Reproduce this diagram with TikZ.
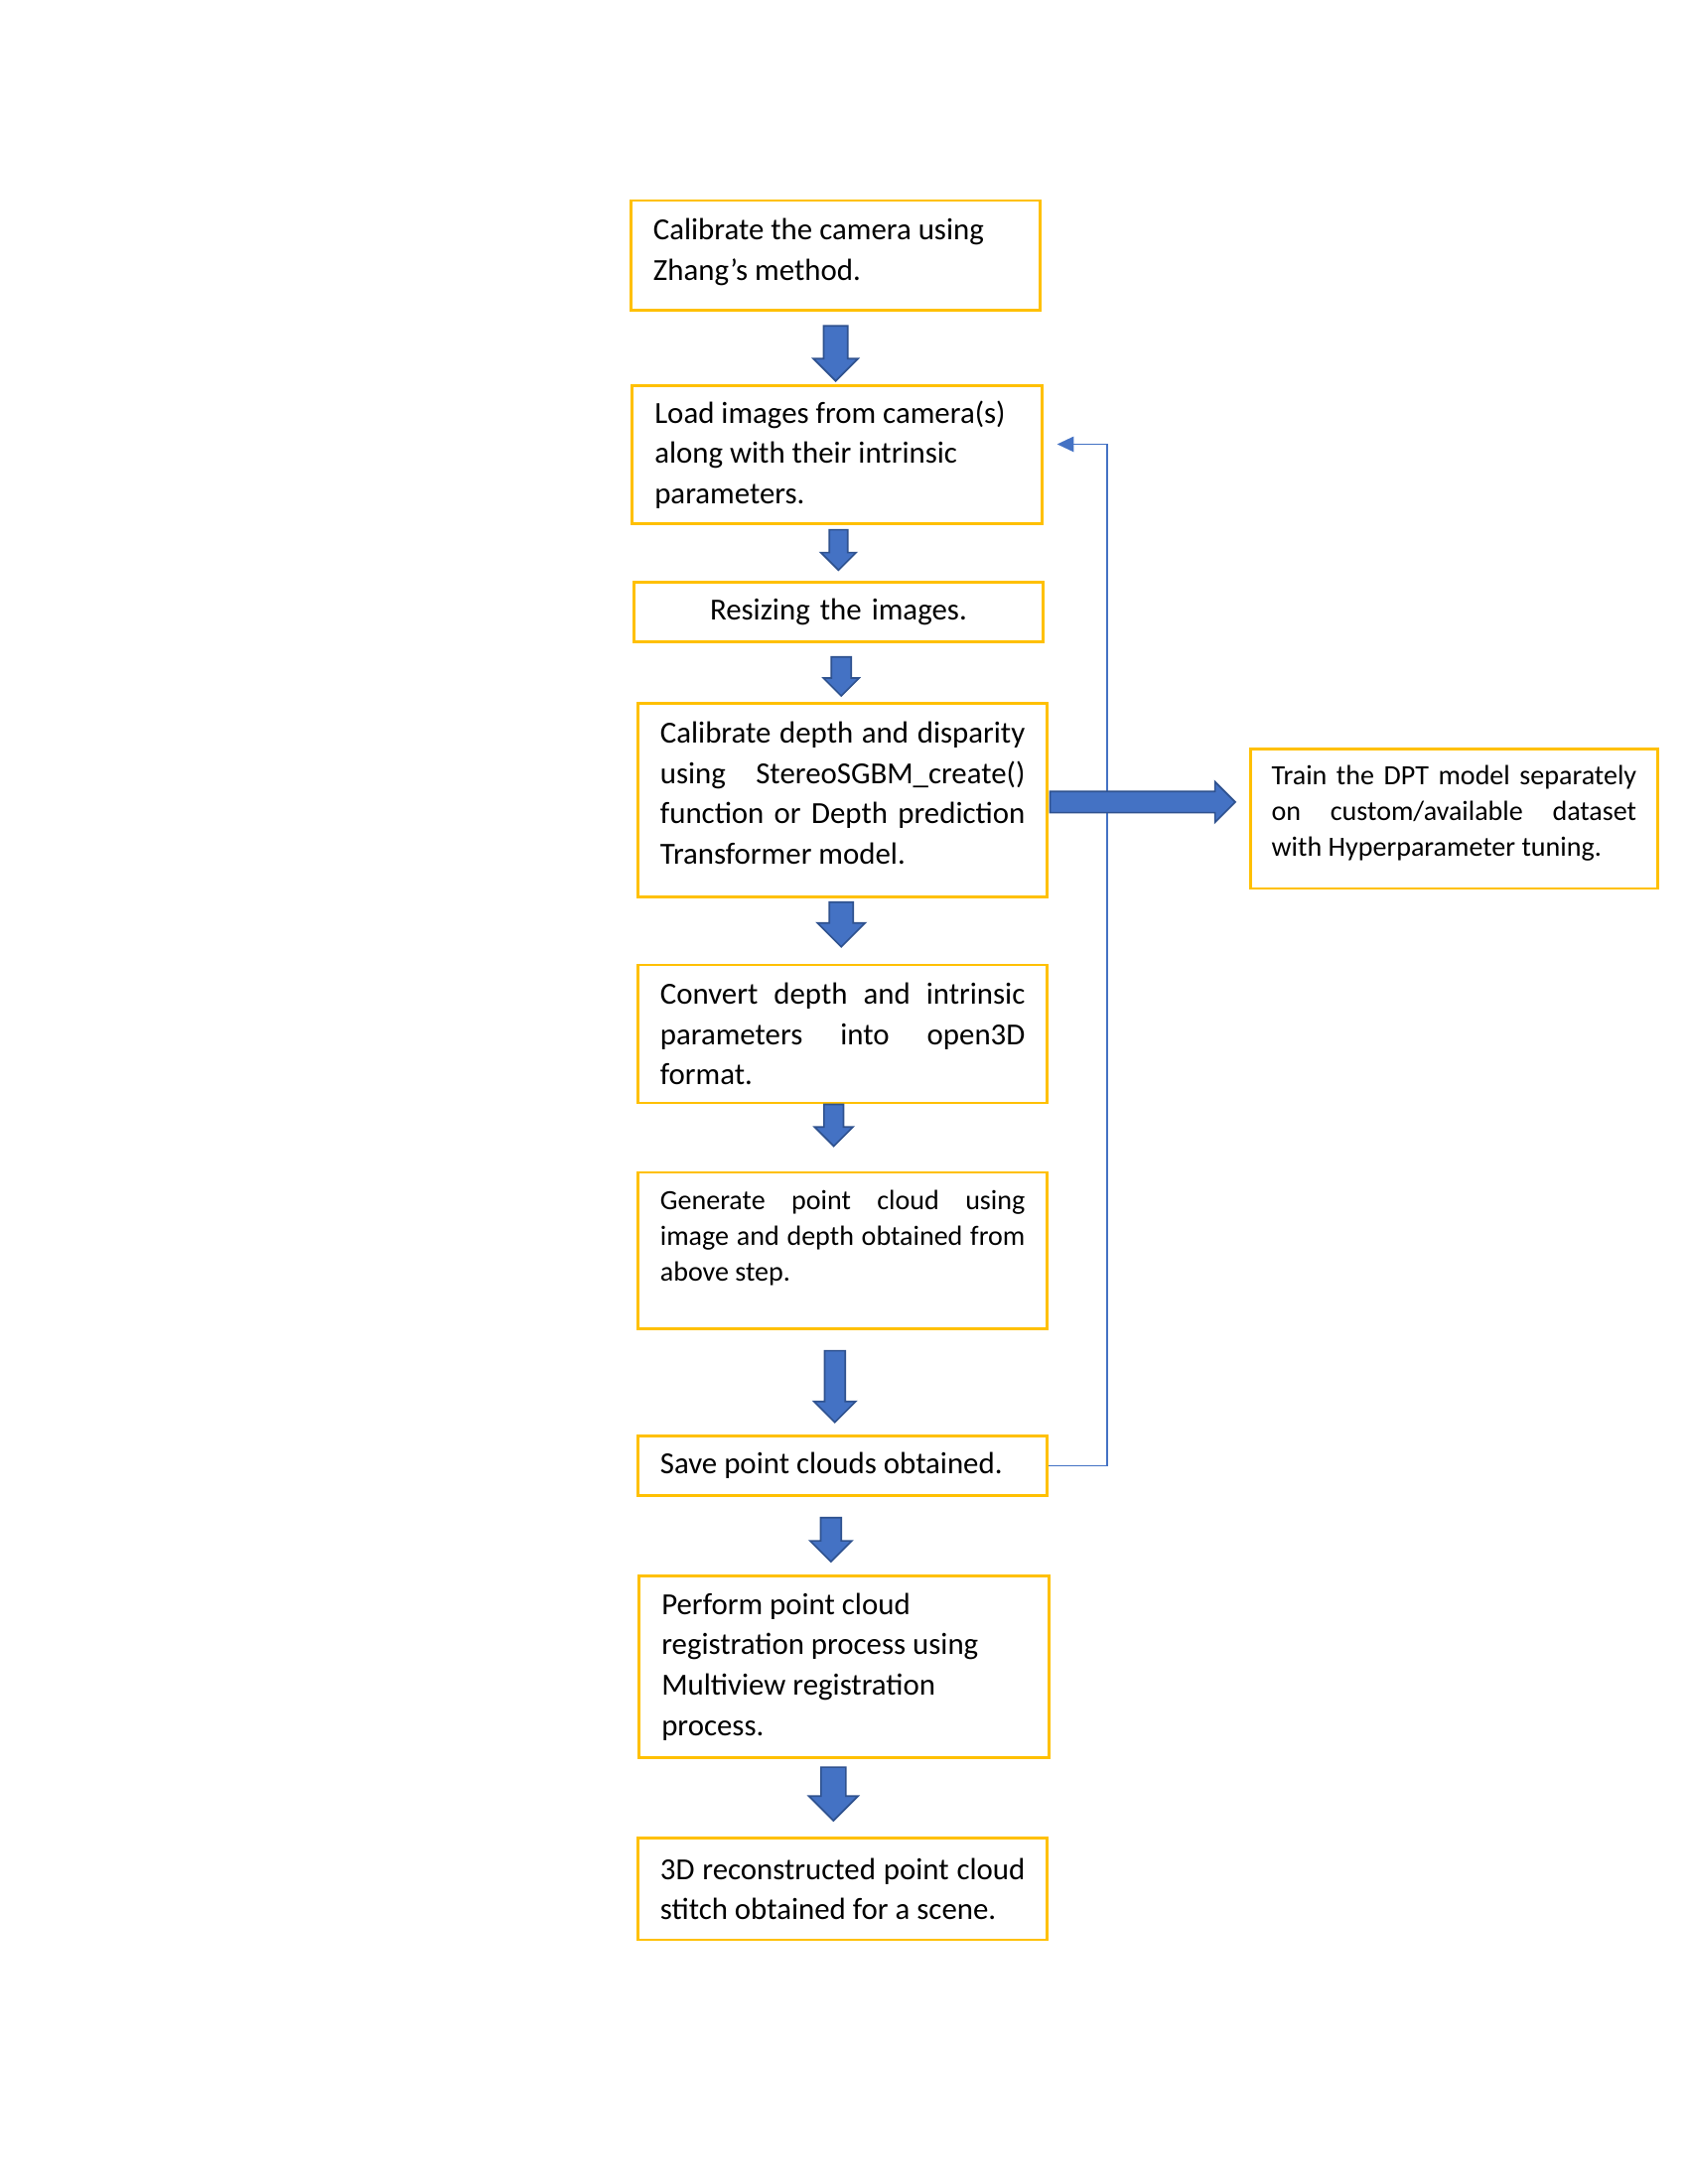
\documentclass[tikz,border=0pt]{standalone}
\usepackage{fontspec}
\setmainfont{Carlito}
\usetikzlibrary{arrows.meta,shapes.arrows}

\definecolor{boxgold}{HTML}{FFC000}
\definecolor{flowblue}{HTML}{4472C4}
\definecolor{flowedge}{HTML}{2F528F}

\tikzset{
  stepbox/.style={draw=boxgold, line width=1pt, anchor=north west,
    inner xsep=8pt, inner ysep=0pt, text width=131pt,
    font=\fontsize{11}{14.5}\selectfont,
    execute at begin node={\spaceskip=0pt\xspaceskip=0pt}},
  smalltext/.style={font=\fontsize{10}{13}\selectfont},
  blockarrow/.style n args={3}{single arrow, draw=flowedge, fill=flowblue,
    line width=0.6pt, inner xsep=0pt, inner ysep=#2,
    single arrow head extend=#3, single arrow head indent=0pt,
    minimum width=0pt, minimum height=#1},
  feedback/.style={draw=flowblue, line width=0.6pt,
    -{Triangle[length=6pt,width=5.5pt]}}
}

\begin{document}
\begin{tikzpicture}[x=1pt,y=1pt]
\useasboundingbox (0,0) rectangle (605.9,-784.2);

\node[stepbox, align=left, minimum height=39.5pt] (s1) at (226,-71.5)
  {Calibrate the camera using\\ Zhang’s method.\par\kern2.5pt};
\node[stepbox, align=left, minimum height=49.5pt] (s2) at (226.5,-138)
  {Load images from camera(s)\\ along with their intrinsic\\ parameters.};
\node[stepbox, align=center, minimum height=21.5pt] (s3) at (227,-208.5)
  {Resizing the images.};
\node[stepbox, align=justify, minimum height=69.5pt] (s4) at (228.5,-252)
  {Calibrate depth and disparity\linebreak using StereoSGBM\_create()\linebreak
   function or Depth prediction\linebreak Transformer model.\par\kern5pt};
\node[stepbox, align=justify, minimum height=49.5pt] (s5) at (228.5,-346)
  {Convert depth and intrinsic\linebreak parameters into open3D\linebreak format.};
\node[stepbox, smalltext, align=justify, minimum height=56pt] (s6) at (228.5,-420.5)
  {Generate point cloud using\linebreak image and depth obtained from\linebreak
   above step.\par\kern9pt};
\node[stepbox, align=left, minimum height=21.5pt] (s7) at (228.5,-515)
  {Save point clouds obtained.};
\node[stepbox, align=left, minimum height=65pt] (s8) at (229,-565.5)
  {Perform point cloud\\ registration process using\\ Multiview registration\\ process.};
\node[stepbox, align=justify, minimum height=36.5pt] (s9) at (228.5,-659.5)
  {3D reconstructed point cloud\linebreak stitch obtained for a scene.};
\node[stepbox, smalltext, align=justify, inner xsep=7.5pt, minimum height=50pt] (dpt) at (448.5,-268.5)
  {Train the DPT model separately\linebreak on custom/available dataset\linebreak
   with Hyperparameter tuning.\par\kern4pt};

% loop back from saving to loading
\coordinate (back) at ([xshift=5pt,yshift=3.75pt]s2.east);
\draw[feedback] (s7.east) -- ++(21pt,0) |- (back);

% flow arrows
\node[blockarrow={19.8pt}{4pt}{3.75pt}, rotate=-90] (a1) at (300,-124.75) {};
\node[blockarrow={14.5pt}{3pt}{3pt}, rotate=-90] (a2) at (301,-195.8) {};
\node[blockarrow={14pt}{3.25pt}{2.85pt}, rotate=-90] (a3) at (302,-241.1) {};
\node[blockarrow={16pt}{4pt}{4.25pt}, rotate=-90] (a4) at (302,-329.8) {};
\node[blockarrow={15pt}{3.2pt}{3.4pt}, rotate=-90] (a5) at (299.3,-402.3) {};
\node[blockarrow={25.7pt}{3.4pt}{3.8pt}, rotate=-90] (a6) at (299.7,-496) {};
\node[blockarrow={15.8pt}{3.4pt}{3.8pt}, rotate=-90] (a7) at (298.3,-551) {};
\node[blockarrow={19.2pt}{4.15pt}{4.35pt}, rotate=-90] (a8) at (299.2,-641.9) {};
\node[blockarrow={66.5pt}{3.5pt}{3.5pt}] (ar) at (408.3,-288) {};
\end{tikzpicture}
\end{document}
